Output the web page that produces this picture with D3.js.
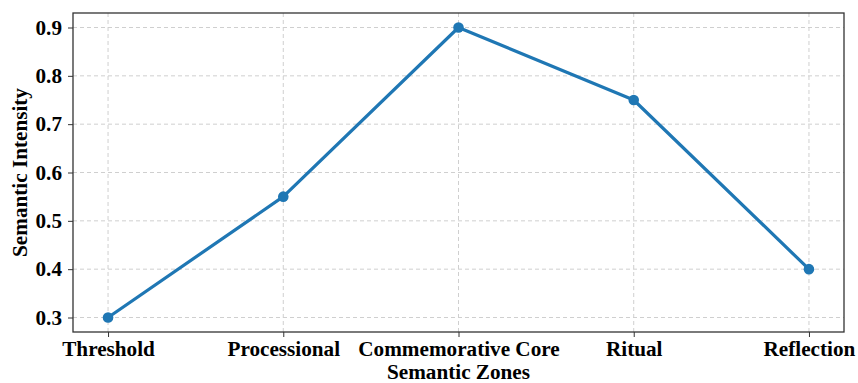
<!DOCTYPE html>
<html>
<head>
<meta charset="utf-8">
<script src="https://cdn.jsdelivr.net/npm/d3@7"></script>
<style>
  body { margin: 0; background: #fff; }
  svg text { font-family: "Liberation Serif", "Times New Roman", serif; font-weight: bold; fill: #000; }
</style>
</head>
<body>
<svg id="chart" width="858" height="383"></svg>
<script>
// Semantic intensity across the zones of the memorial
const zones = ["Threshold", "Processional", "Commemorative Core", "Ritual", "Reflection"];
const intensity = [0.3, 0.55, 0.9, 0.75, 0.4];
const yTicks = [0.3, 0.4, 0.5, 0.6, 0.7, 0.8, 0.9];

const W = 858, H = 383;
const margin = { left: 73, right: 14, top: 13, bottom: 51 };
const FS = 21.2;
const svg = d3.select("#chart");

const x = d3.scaleLinear()
  .domain([-0.2, zones.length - 1 + 0.2])
  .range([margin.left, W - margin.right]);
const y = d3.scaleLinear()
  .domain([0.27, 0.93])
  .range([H - margin.bottom, margin.top]);

// grid
const grid = svg.append("g");
grid.selectAll("line.gx").data(zones).enter().append("line")
  .attr("x1", (d, i) => x(i)).attr("x2", (d, i) => x(i))
  .attr("y1", margin.top).attr("y2", H - margin.bottom)
  .attr("stroke", "#cfcfcf").attr("stroke-width", 1).attr("stroke-dasharray", "4,3");
grid.selectAll("line.gy").data(yTicks).enter().append("line")
  .attr("x1", margin.left).attr("x2", W - margin.right)
  .attr("y1", d => y(d)).attr("y2", d => y(d))
  .attr("stroke", "#cfcfcf").attr("stroke-width", 1).attr("stroke-dasharray", "4,3");

// axes
const xAxis = d3.axisBottom(x)
  .tickValues(d3.range(zones.length))
  .tickFormat(i => zones[i])
  .tickSize(5).tickPadding(4).tickSizeOuter(0);
const yAxis = d3.axisLeft(y)
  .tickValues(yTicks)
  .tickFormat(d3.format(".1f"))
  .tickSize(5).tickPadding(6).tickSizeOuter(0);

const gx = svg.append("g")
  .attr("transform", `translate(0,${H - margin.bottom})`)
  .call(xAxis);
gx.select(".domain").remove();
gx.selectAll(".tick line").attr("stroke", "#333");
gx.selectAll(".tick text").attr("font-size", FS).attr("fill", "#000");

const gy = svg.append("g")
  .attr("transform", `translate(${margin.left},0)`)
  .call(yAxis);
gy.select(".domain").remove();
gy.selectAll(".tick line").attr("stroke", "#333");
gy.selectAll(".tick text").attr("font-size", FS).attr("fill", "#000");

// frame
svg.append("rect")
  .attr("x", margin.left).attr("y", margin.top)
  .attr("width", W - margin.left - margin.right)
  .attr("height", H - margin.top - margin.bottom)
  .attr("fill", "none").attr("stroke", "#333").attr("stroke-width", 1.3);

// series
const line = d3.line().x((d, i) => x(i)).y(d => y(d));
svg.append("path").datum(intensity)
  .attr("d", line)
  .attr("fill", "none").attr("stroke", "#1f77b4").attr("stroke-width", 3.2)
  .attr("stroke-linejoin", "round");
svg.selectAll("circle.pt").data(intensity).enter().append("circle")
  .attr("cx", (d, i) => x(i)).attr("cy", d => y(d)).attr("r", 5.3)
  .attr("fill", "#1f77b4");

// axis titles
svg.append("text")
  .attr("x", (margin.left + W - margin.right) / 2).attr("y", 378.8)
  .attr("text-anchor", "middle").attr("font-size", FS)
  .text("Semantic Zones");
svg.append("text")
  .attr("transform", `translate(27,${(margin.top + H - margin.bottom) / 2}) rotate(-90)`)
  .attr("text-anchor", "middle").attr("font-size", FS)
  .text("Semantic Intensity");
</script>
</body>
</html>
